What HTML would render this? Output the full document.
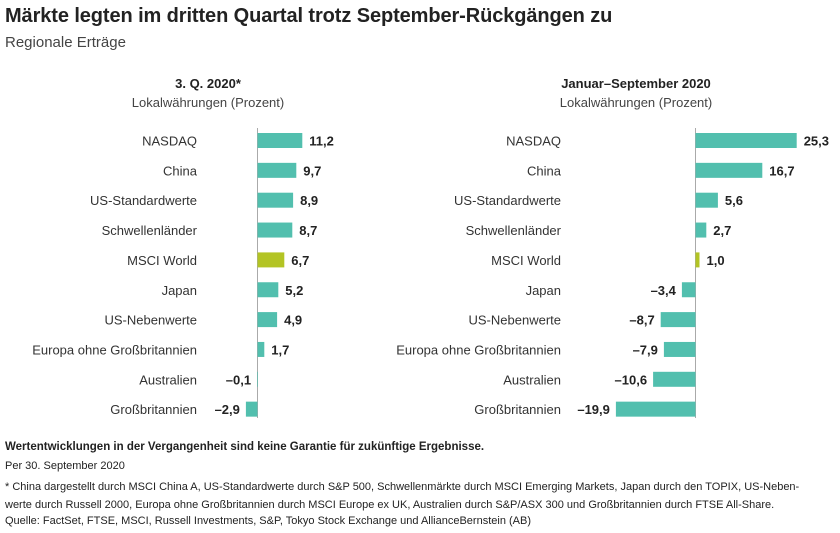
<!DOCTYPE html>
<html><head><meta charset="utf-8"><style>
body{margin:0;background:#fff;font-family:"Liberation Sans",sans-serif;color:#222}
#w{position:relative;width:840px;height:533px;overflow:hidden}
.t{position:absolute;white-space:nowrap}
</style></head><body><div id="w">
<div class="t" style="left:5px;top:5px;font-size:20px;font-weight:bold;letter-spacing:-0.1px">Märkte legten im dritten Quartal trotz September-Rückgängen zu</div>
<div class="t" style="left:5px;top:34px;font-size:15px;color:#444">Regionale Erträge</div>
<svg id="s" width="840" height="440" style="position:absolute;left:0;top:0"></svg>
<div class="t" style="left:5px;top:441px;font-size:11.5px;font-weight:bold">Wertentwicklungen in der Vergangenheit sind keine Garantie für zukünftige Ergebnisse.</div>
<div class="t" style="left:5px;top:460px;font-size:11px">Per 30. September 2020</div>
<div class="t" style="left:5px;top:478px;font-size:11px;line-height:18px">* China dargestellt durch MSCI China A, US-Standardwerte durch S&amp;P 500, Schwellenmärkte durch MSCI Emerging Markets, Japan durch den TOPIX, US-Neben-<br>werte durch Russell 2000, Europa ohne Großbritannien durch MSCI Europe ex UK, Australien durch S&amp;P/ASX 300 und Großbritannien durch FTSE All-Share.</div>
<div class="t" style="left:5px;top:515px;font-size:11px">Quelle: FactSet, FTSE, MSCI, Russell Investments, S&amp;P, Tokyo Stock Exchange und AllianceBernstein (AB)</div>
</div>
<script>
const categories=["NASDAQ","China","US-Standardwerte","Schwellenländer","MSCI World","Japan","US-Nebenwerte","Europa ohne Großbritannien","Australien","Großbritannien"];
const q3Values=[11.2,9.7,8.9,8.7,6.7,5.2,4.9,1.7,-0.1,-2.9];
const ytdValues=[25.3,16.7,5.6,2.7,1.0,-3.4,-8.7,-7.9,-10.6,-19.9];
const highlight="MSCI World";
const NS="http://www.w3.org/2000/svg",svg=document.getElementById('s');
function el(t,a,txt){const e=document.createElementNS(NS,t);for(const k in a)e.setAttribute(k,a[k]);if(txt!==undefined)e.textContent=txt;svg.appendChild(e);return e;}
function rowY(i){return 140.5+i*29.85;}
function fmt(v){return (v<0?"\u2013":"")+Math.abs(v).toFixed(1).replace('.',',');}
function panel(key,zero,labelRight,head,values,hx){
  const xs=v=>zero+v*4.0;
  let e=el('text',{x:hx,y:88,'text-anchor':'middle','font-size':13,'font-weight':'bold',fill:'#222'},head[0]);
  
  e=el('text',{x:hx,y:107,'text-anchor':'middle','font-size':13,fill:'#444'},head[1]);
  
  e=el('line',{x1:zero,x2:zero,y1:128,y2:418,stroke:'#aaa','stroke-width':1});
  
  categories.forEach((c,i)=>{
    const v=values[i],y=rowY(i),x0=Math.min(xs(0),xs(v)),w=Math.abs(xs(v)-xs(0));
    let t=el('text',{x:labelRight,y:y+5,'text-anchor':'end','font-size':13,fill:'#333'},c);
    
    let r=el('rect',{x:x0,y:y-7.5,width:Math.max(w,0.6),height:15,fill:c===highlight?'#b3c424':'#52bfae'});
    
    let vt=el('text',{x:v>=0?xs(v)+7:xs(v)-6,y:y+5,'text-anchor':v>=0?'start':'end','font-size':13,'font-weight':'bold',fill:'#222'},fmt(v));
    
  });
}
panel('q3',257.5,197,["3. Q. 2020*","Lokalwährungen (Prozent)"],q3Values,208);
panel('ytd',695.5,561,["Januar–September 2020","Lokalwährungen (Prozent)"],ytdValues,636);
</script></body></html>
